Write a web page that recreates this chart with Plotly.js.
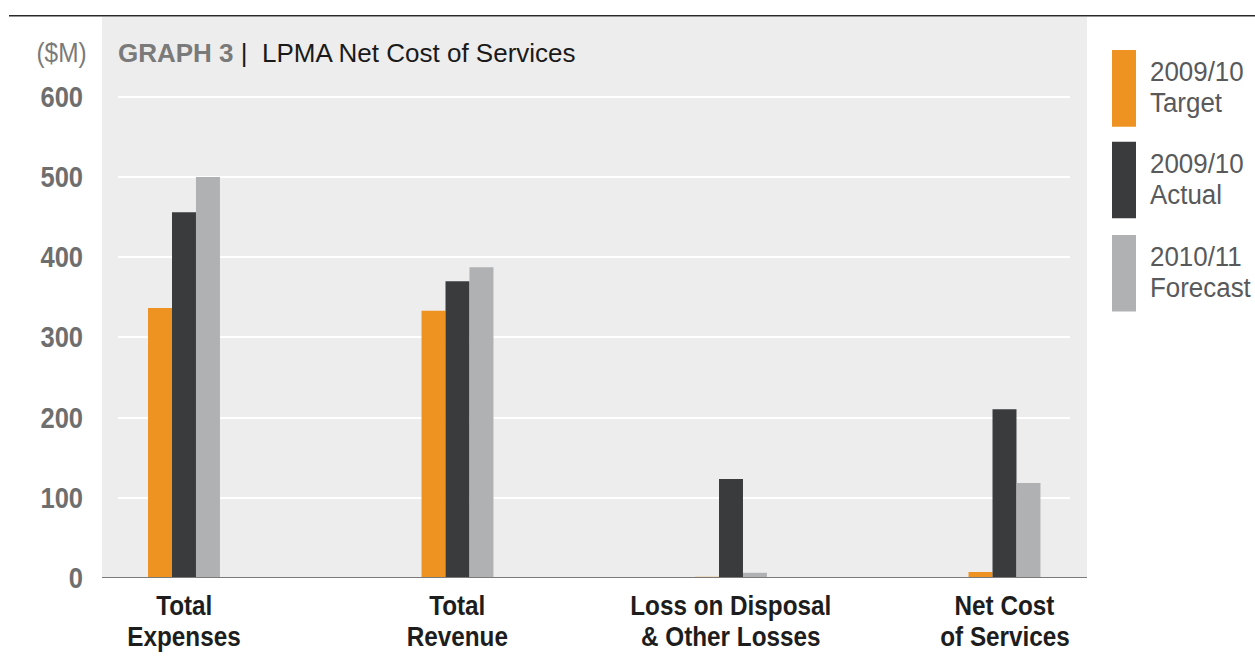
<!DOCTYPE html>
<html>
<head>
<meta charset="utf-8">
<script src="https://cdn.plot.ly/plotly-3.0.1.min.js"></script>
<style>
  html, body { margin: 0; padding: 0; background: #ffffff; }
  #chart { width: 1255px; height: 661px; }
</style>
</head>
<body>
<div id="chart"></div>
<script>
// ---- data ----
const categoryLines = [
  ["Total", "Expenses"],
  ["Total", "Revenue"],
  ["Loss on Disposal", "& Other Losses"],
  ["Net Cost", "of Services"]
];
const categories = categoryLines.map(l => l.join(" "));
const seriesNames = ["2009/10 Target", "2009/10 Actual", "2010/11 Forecast"];
const seriesLines = [["2009/10", "Target"], ["2009/10", "Actual"], ["2010/11", "Forecast"]];
const target2009 = [336.5, 333, 1.5, 7.5];
const actual2009 = [456, 370, 123.5, 210.5];
const forecast2010 = [500, 387.5, 6.5, 118.5];
const yTicks = [0, 100, 200, 300, 400, 500, 600];
const yTickLabels = ["0", "100", "200", "300", "400", "500", "600"];
const unitLabel = "($M)";
const titleBold = "GRAPH 3";
const titleText = "LPMA Net Cost of Services";

// ---- styling ----
const colors = ["#EE9322", "#3A3B3D", "#B0B1B3"];
const seriesValues = [target2009, actual2009, forecast2010];
const sans = "Liberation Sans, Arial, sans-serif";

const W = 1255, H = 661;
const L = 118, R = 1070, T = 17, B = 578.3;
const pw = R - L, ph = B - T;
const px2x = p => (p - L) / pw;
const py2y = p => (B - p) / ph;

const traces = seriesValues.map((vals, i) => ({
  type: "bar",
  name: seriesNames[i],
  x: categories,
  y: vals,
  marker: { color: colors[i], line: { width: 0 } },
  hoverinfo: "x+y+name"
}));

const shapes = [
  { type: "rect", xref: "paper", yref: "paper", x0: px2x(102), x1: px2x(1087), y0: 0, y1: 1,
    fillcolor: "#EDEDED", line: { width: 0 }, layer: "below" },
  { type: "line", xref: "paper", yref: "paper", x0: px2x(9), x1: px2x(1255), y0: py2y(15.7), y1: py2y(15.7),
    line: { color: "#2a2a2a", width: 1.5 }, layer: "above" },
  { type: "line", xref: "paper", yref: "y", x0: px2x(102), x1: px2x(1087), y0: 0, y1: 0,
    line: { color: "#7a7a7a", width: 2 }, layer: "above" }
];

const annotations = [];
const annScale = []; // horizontal condensing factor per annotation

annotations.push({ xref: "paper", yref: "paper", x: px2x(89), y: py2y(53), xanchor: "right", yanchor: "middle",
  text: unitLabel, showarrow: false, font: { family: sans, size: 28, color: "#7a7a7a" } });
annScale.push(0.87);

categoryLines.forEach((lines, i) => {
  lines.forEach((t, j) => {
    annotations.push({ xref: "x", yref: "paper", x: categories[i], y: py2y(606 + j * 31.3),
      xanchor: "center", yanchor: "middle", text: "<b>" + t + "</b>", showarrow: false,
      font: { family: sans, size: 27, color: "#1d1d1d" } });
    annScale.push(0.9);
  });
});

const swTop = [50, 141.7, 235];
const swH = 76.7;
seriesLines.forEach((lines, i) => {
  shapes.push({ type: "rect", xref: "paper", yref: "paper", x0: px2x(1112), x1: px2x(1136),
    y0: py2y(swTop[i] + swH), y1: py2y(swTop[i]), fillcolor: colors[i], line: { width: 0 } });
  lines.forEach((t, j) => {
    annotations.push({ xref: "paper", yref: "paper", x: px2x(1148), y: py2y(swTop[i] + 22 + j * 31.5),
      xanchor: "left", yanchor: "middle", text: t, showarrow: false,
      font: { family: sans, size: 27, color: "#58595B" } });
    annScale.push(0.96);
  });
});

const layout = {
  width: W, height: H,
  margin: { l: L, r: W - R, t: T, b: H - B, pad: 0 },
  paper_bgcolor: "#ffffff",
  plot_bgcolor: "rgba(0,0,0,0)",
  barmode: "group",
  bargap: 0.737,
  bargroupgap: 0,
  showlegend: false,
  title: {
    text: '<span style="color:#7a7a7a"><b>' + titleBold + '</b></span> |  ' + titleText,
    x: px2x(118), xref: "paper", xanchor: "left",
    y: 1 - 53 / H, yref: "container", yanchor: "middle",
    font: { family: sans, size: 26, color: "#1a1a1a" }
  },
  xaxis: {
    type: "category",
    range: [-0.2413, 3.2395],
    showticklabels: false,
    showgrid: false, zeroline: false, showline: false, ticks: ""
  },
  yaxis: {
    range: [0, 699.3],
    tickvals: yTicks, ticktext: yTickLabels,
    showgrid: true, gridcolor: "#ffffff", gridwidth: 2,
    zeroline: false, showline: false, ticks: "",
    ticklabelstandoff: 34,
    tickfont: { family: sans, size: 29, color: "#6e6e6e", weight: "bold" }
  },
  shapes: shapes,
  annotations: annotations
};

function condense(el, s, anchor) {
  const bb = el.getBBox();
  let ax = bb.x + bb.width / 2;
  if (anchor === "left") ax = bb.x;
  if (anchor === "right") ax = bb.x + bb.width;
  const prev = el.getAttribute("transform") || "";
  el.setAttribute("transform", prev + " translate(" + ax + ",0) scale(" + s + ",1) translate(" + (-ax) + ",0)");
}

Plotly.newPlot("chart", traces, layout, { displayModeBar: false, staticPlot: true }).then(gd => {
  gd.querySelectorAll("g.annotation").forEach(g => {
    const idx = +g.getAttribute("data-index");
    const txt = g.querySelector("text.annotation-text");
    if (txt && annScale[idx]) condense(txt, annScale[idx], annotations[idx].xanchor);
  });
  gd.querySelectorAll("g.ytick text").forEach(t => condense(t, 0.88, "right"));
});
</script>
</body>
</html>
